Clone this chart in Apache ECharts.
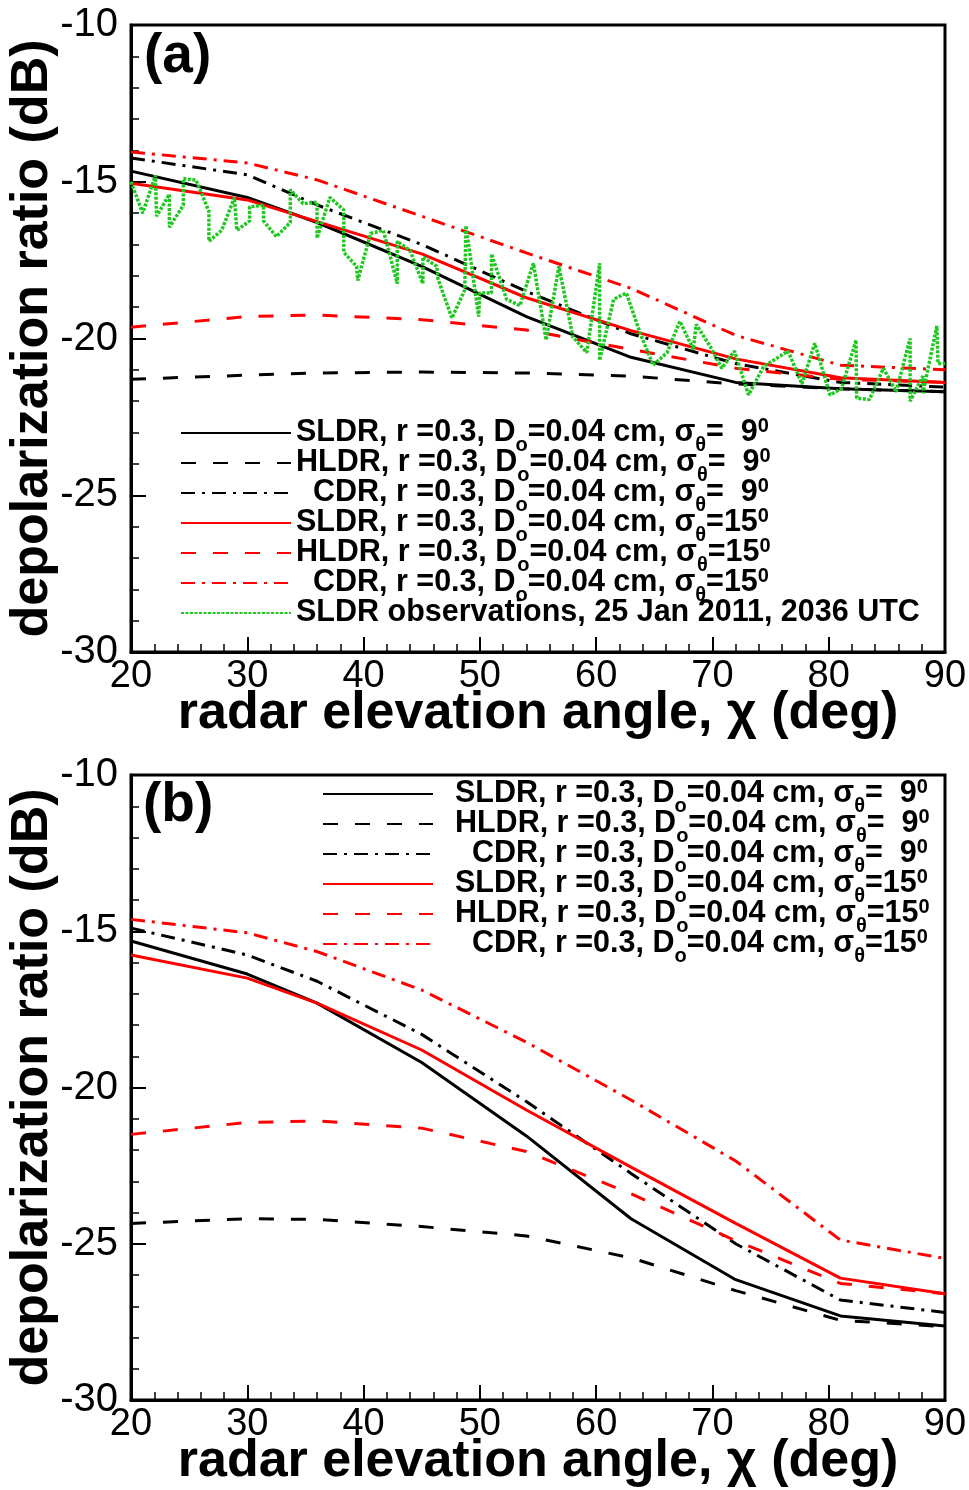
<!DOCTYPE html>
<html>
<head>
<meta charset="utf-8">
<script src="https://cdn.jsdelivr.net/npm/echarts@6/dist/echarts.min.js"></script>
<style>html,body{margin:0;padding:0;background:#fff}#chart{width:969px;height:1490px}</style>
</head>
<body>
<div id="chart"></div>
<script>
// ---- data ----
const angles = [20, 30, 36, 45, 54, 63, 72, 81, 90];
const xTicks = [20, 30, 40, 50, 60, 70, 80, 90];
const yTicks = [-30, -25, -20, -15, -10];

// panel (a)
const aSLDR9  = [-14.66, -15.5, -16.3, -17.7, -19.3, -20.6, -21.4, -21.6, -21.7];
const aHLDR9  = [-21.3, -21.17, -21.1, -21.07, -21.1, -21.2, -21.45, -21.6, -21.7];
const aCDR9   = [-14.24, -14.78, -15.74, -17.0, -18.5, -19.85, -20.8, -21.4, -21.55];
const aSLDR15 = [-15.05, -15.58, -16.27, -17.3, -18.7, -19.75, -20.65, -21.25, -21.4];
const aHLDR15 = [-19.64, -19.3, -19.25, -19.4, -19.73, -20.35, -20.95, -21.3, -21.4];
const aCDR15  = [-14.05, -14.4, -14.94, -16.1, -17.27, -18.4, -19.9, -20.85, -21.0];

// observations (panel a)
const obsAngle = [20.0, 21.0, 22.1, 22.2, 23.3, 23.3, 24.5, 24.5, 25.6, 26.7, 26.7, 27.8, 28.9, 29.1, 30.2, 30.2,
  31.4, 31.4, 32.5, 33.7, 33.7, 34.8, 36.0, 36.0, 37.1, 38.3, 38.3, 39.4, 39.5, 40.6, 41.7, 42.9, 42.9, 44.0,
  45.1, 45.1, 46.3, 46.4, 47.6, 48.7, 48.8, 49.9, 50.0, 51.0, 51.0, 52.3, 53.45, 54.6, 55.7, 56.8, 58.0, 59.2,
  60.3, 60.3, 61.5, 62.6, 63.8, 64.9, 66.1, 67.2, 68.35, 68.6, 69.8, 70.8, 71.9, 73.1, 74.4, 76.5, 77.7, 78.8,
  80.1, 81.1, 82.35, 82.4, 83.5, 84.7, 85.8, 87.0, 87.0, 88.1, 88.1, 89.3, 89.4, 90.0];
const obsSLDR = [-15.0, -16.0, -14.8, -16.1, -15.4, -16.45, -15.75, -14.9, -14.95, -15.95, -16.9, -16.55, -15.5, -16.55, -16.25, -15.8,
  -15.75, -16.25, -16.75, -16.3, -15.25, -15.7, -15.65, -16.8, -15.5, -15.9, -17.25, -17.7, -18.15, -16.65, -16.55, -18.25, -16.9, -17.2,
  -18.25, -17.4, -17.7, -18.1, -19.35, -18.45, -16.4, -19.3, -18.55, -18.55, -17.3, -18.75, -18.95, -17.6, -20.05, -17.7, -19.95, -20.45,
  -17.6, -20.7, -18.75, -18.55, -19.85, -20.85, -20.45, -19.45, -20.35, -19.55, -20.25, -20.95, -20.4, -21.8, -20.9, -20.4, -21.45, -20.15,
  -21.8, -21.6, -20.05, -21.9, -21.95, -20.95, -21.7, -20.0, -22.0, -21.2, -21.75, -19.6, -20.8, -20.8];

// panel (b)
const bSLDR9  = [-15.31, -16.37, -17.3, -19.2, -21.55, -24.2, -26.15, -27.31, -27.63];
const bHLDR9  = [-24.35, -24.2, -24.22, -24.45, -24.75, -25.45, -26.5, -27.45, -27.65];
const bCDR9   = [-14.9, -15.76, -16.6, -18.3, -20.45, -22.75, -25.0, -26.8, -27.2];
const bSLDR15 = [-15.76, -16.5, -17.3, -18.8, -20.72, -22.55, -24.35, -26.1, -26.6];
const bHLDR15 = [-21.5, -21.12, -21.07, -21.3, -22.05, -23.4, -24.9, -26.27, -26.6];
const bCDR15  = [-14.62, -15.05, -15.65, -16.88, -18.55, -20.4, -22.35, -24.88, -25.47];

const legendText = {
  SLDR9:  'SLDR, r =0.3, D{sub|o}=0.04 cm, σ{sub|θ}=  9{sup|0}',
  HLDR9:  'HLDR, r =0.3, D{sub|o}=0.04 cm, σ{sub|θ}=  9{sup|0}',
  CDR9:   '  CDR, r =0.3, D{sub|o}=0.04 cm, σ{sub|θ}=  9{sup|0}',
  SLDR15: 'SLDR, r =0.3, D{sub|o}=0.04 cm, σ{sub|θ}=15{sup|0}',
  HLDR15: 'HLDR, r =0.3, D{sub|o}=0.04 cm, σ{sub|θ}=15{sup|0}',
  CDR15:  '  CDR, r =0.3, D{sub|o}=0.04 cm, σ{sub|θ}=15{sup|0}',
  OBS:    'SLDR observations, 25 Jan 2011, 2036 UTC{sub| }'
};

// ---- styles ----
const FONT = 'Liberation Sans, Arial, sans-serif';
const styles = {
  SLDR9:  {color: '#000000', width: 3, type: 'solid'},
  HLDR9:  {color: '#000000', width: 3, type: [15, 17]},
  CDR9:   {color: '#000000', width: 3, type: [14, 7, 3, 7]},
  SLDR15: {color: '#ff0000', width: 3, type: 'solid'},
  HLDR15: {color: '#ff0000', width: 3, type: [15, 17]},
  CDR15:  {color: '#ff0000', width: 3, type: [14, 7, 3, 7]},
  OBS:    {color: '#1fc81f', width: 3.5, type: [3, 1.5]}
};

function pairs(xs, ys) { return xs.map((x, i) => [x, ys[i]]); }

function xAxisCfg(g) {
  return {
    type: 'value', gridIndex: g, min: xTicks[0], max: xTicks[xTicks.length - 1], interval: 10,
    axisLine: {show: true, onZero: false, lineStyle: {color: '#000', width: 3}},
    axisTick: {show: true, inside: true, length: 15, lineStyle: {color: '#000', width: 2}},
    minorTick: {show: true, splitNumber: 5, length: 8, lineStyle: {color: '#000', width: 1.5}},
    axisLabel: {color: '#000', fontSize: 38, fontFamily: FONT, margin: 6},
    splitLine: {show: false},
    name: 'radar elevation angle, χ (deg)', nameLocation: 'middle', nameGap: 36, nameMoveOverlap: false,
    nameTextStyle: {color: '#000', fontSize: 52, fontWeight: 'bold', fontFamily: FONT}
  };
}
function yAxisCfg(g) {
  return {
    type: 'value', gridIndex: g, min: yTicks[0], max: yTicks[yTicks.length - 1], interval: 5,
    axisLine: {show: true, onZero: false, lineStyle: {color: '#000', width: 3}},
    axisTick: {show: true, inside: true, length: 15, lineStyle: {color: '#000', width: 2}},
    minorTick: {show: true, splitNumber: 5, length: 8, lineStyle: {color: '#000', width: 1.5}},
    axisLabel: {color: '#000', fontSize: 40, fontFamily: FONT, margin: 13},
    splitLine: {show: false},
    name: 'depolarization ratio (dB)', nameLocation: 'middle', nameGap: 72, nameMoveOverlap: false,
    nameTextStyle: {color: '#000', fontSize: 52, fontWeight: 'bold', fontFamily: FONT}
  };
}
function lineSeries(name, g, data) {
  return {
    name: name, type: 'line', xAxisIndex: g, yAxisIndex: g, data: data,
    symbol: 'none', showSymbol: false, animation: false, clip: true,
    lineStyle: styles[name], itemStyle: {color: styles[name].color}
  };
}

const legendTextStyle = {
  color: '#000', fontSize: 30.5, fontWeight: 'bold', fontFamily: FONT, lineHeight: 30,
  rich: {
    sub: {color: '#000', fontSize: 20, fontWeight: 'bold', fontFamily: FONT, lineHeight: 20, padding: [24, 0, 0, 0]},
    sup: {color: '#000', fontSize: 20, fontWeight: 'bold', fontFamily: FONT, lineHeight: 20, padding: [0, 0, 14, 0]}
  }
};
const legendItemStyle = {opacity: 0, color: 'rgba(0,0,0,0)', borderWidth: 0};

const series = [
  lineSeries('SLDR9', 0, pairs(angles, aSLDR9)),
  lineSeries('HLDR9', 0, pairs(angles, aHLDR9)),
  lineSeries('CDR9', 0, pairs(angles, aCDR9)),
  lineSeries('SLDR15', 0, pairs(angles, aSLDR15)),
  lineSeries('HLDR15', 0, pairs(angles, aHLDR15)),
  lineSeries('CDR15', 0, pairs(angles, aCDR15)),
  lineSeries('OBS', 0, pairs(obsAngle, obsSLDR)),
  lineSeries('SLDR9', 1, pairs(angles, bSLDR9)),
  lineSeries('HLDR9', 1, pairs(angles, bHLDR9)),
  lineSeries('CDR9', 1, pairs(angles, bCDR9)),
  lineSeries('SLDR15', 1, pairs(angles, bSLDR15)),
  lineSeries('HLDR15', 1, pairs(angles, bHLDR15)),
  lineSeries('CDR15', 1, pairs(angles, bCDR15))
];

const chart = echarts.init(document.getElementById('chart'), null, {renderer: 'canvas', width: 969, height: 1490});
chart.setOption({
  backgroundColor: '#ffffff',
  animation: false,
  title: [
    {text: '(a)', left: 144, top: 29, padding: 0, textStyle: {fontSize: 55, fontWeight: 'bold', fontFamily: FONT, color: '#000'}},
    {text: '(b)', left: 143, top: 778, padding: 0, textStyle: {fontSize: 55, fontWeight: 'bold', fontFamily: FONT, color: '#000'}}
  ],
  grid: [
    {left: 131, top: 25, width: 814, height: 627, outerBoundsMode: 'none', containLabel: false, show: true, borderColor: '#000', borderWidth: 3, backgroundColor: 'transparent'},
    {left: 131, top: 775, width: 814, height: 625, outerBoundsMode: 'none', containLabel: false, show: true, borderColor: '#000', borderWidth: 3, backgroundColor: 'transparent'}
  ],
  xAxis: [xAxisCfg(0), xAxisCfg(1)],
  yAxis: [yAxisCfg(0), yAxisCfg(1)],
  legend: [
    {
      left: 180, top: 411, orient: 'vertical', itemWidth: 110, itemHeight: 14, itemGap: -14, padding: 0,
      selectedMode: false, data: ['SLDR9', 'HLDR9', 'CDR9', 'SLDR15', 'HLDR15', 'CDR15', 'OBS'],
      itemStyle: legendItemStyle,
      formatter: n => legendText[n], textStyle: legendTextStyle
    },
    {
      left: 322, top: 772, orient: 'vertical', itemWidth: 110, itemHeight: 14, itemGap: -14, padding: 0,
      selectedMode: false, data: ['SLDR9', 'HLDR9', 'CDR9', 'SLDR15', 'HLDR15', 'CDR15'],
      itemStyle: legendItemStyle,
      formatter: n => (legendText[n].startsWith('  ') ? '    ' : '  ') + legendText[n].trimStart(), textStyle: legendTextStyle
    }
  ],
  series: series
});
</script>
</body>
</html>
